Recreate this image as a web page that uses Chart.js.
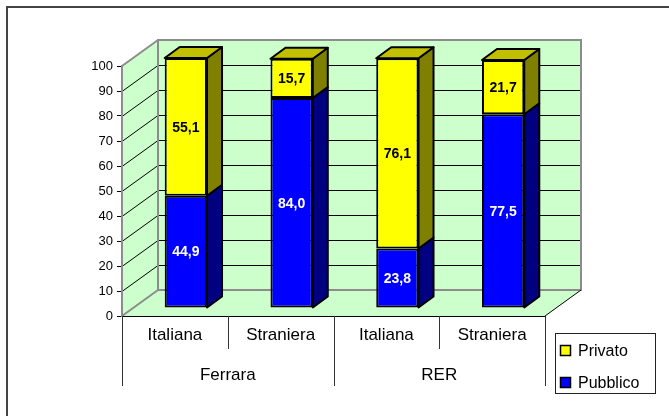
<!DOCTYPE html>
<html>
<head>
<meta charset="utf-8">
<script src="https://cdn.jsdelivr.net/npm/chart.js@4/dist/chart.umd.min.js"></script>
<style>
  html, body { margin: 0; padding: 0; background: #ffffff; }
  #wrap { width: 669px; height: 416px; position: relative; }
</style>
</head>
<body>
<div id="wrap"><canvas id="chart" width="669" height="416"></canvas></div>
<script>
// Categories: nationality within each area
const categories = ['Italiana', 'Straniera', 'Italiana', 'Straniera'];
const groups = ['Ferrara', 'RER'];
// Percentages per sector
const pubblico = [44.9, 84.0, 23.8, 77.5];
const privato = [55.1, 15.7, 76.1, 21.7];
const yMin = 0, yMax = 100, yStep = 10;

const FONT = "'Liberation Sans', Arial, sans-serif";
const WALL = { dx: 36, dy: 26 };      // depth of the chart box
const BAR_SHIFT = { dx: 11, dy: 8 };  // bars sit a bit behind the front plane
const BAR_DEPTH = { dx: 15, dy: 11 };

const fmt = v => v.toFixed(1).replace('.', ',');

// walls, floor and gridlines of the 3D box
const boxPlugin = {
    id: 'box3d',
    beforeDraw(chart) {
        const { ctx, chartArea: a, scales: { y } } = chart;
        const { dx, dy } = WALL;
        ctx.save();

        // outer frame
        ctx.strokeStyle = '#444';
        ctx.lineWidth = 2;
        ctx.beginPath();
        ctx.moveTo(7, 420); ctx.lineTo(7, 7); ctx.lineTo(680, 7);
        ctx.stroke();

        ctx.fillStyle = '#ccffcc';
        // left wall
        ctx.beginPath();
        ctx.moveTo(a.left, a.bottom); ctx.lineTo(a.left, a.top);
        ctx.lineTo(a.left + dx, a.top - dy); ctx.lineTo(a.left + dx, a.bottom - dy);
        ctx.closePath(); ctx.fill();
        // floor
        ctx.beginPath();
        ctx.moveTo(a.left, a.bottom); ctx.lineTo(a.right, a.bottom);
        ctx.lineTo(a.right + dx, a.bottom - dy); ctx.lineTo(a.left + dx, a.bottom - dy);
        ctx.closePath(); ctx.fill();
        // back wall
        ctx.fillRect(a.left + dx, a.top - dy, a.right - a.left, a.bottom - a.top);

        // gridlines
        ctx.strokeStyle = '#000';
        ctx.lineWidth = 1;
        for (let v = yMin + yStep; v < yMax; v += yStep) {
            const py = Math.round(y.getPixelForValue(v)) + 0.5;
            ctx.beginPath();
            ctx.moveTo(a.left, py); ctx.lineTo(a.left + dx, py - dy);
            ctx.lineTo(a.right + dx, py - dy);
            ctx.stroke();
        }

        // box edges
        ctx.strokeStyle = '#8c8c8c';
        ctx.lineWidth = 2;
        ctx.strokeRect(a.left + dx, a.top - dy, a.right - a.left, a.bottom - a.top);
        ctx.beginPath();
        ctx.moveTo(a.left, a.top); ctx.lineTo(a.left + dx, a.top - dy);
        ctx.moveTo(a.left, a.bottom); ctx.lineTo(a.left + dx, a.bottom - dy);
        ctx.stroke();
        ctx.strokeStyle = '#000';
        ctx.lineWidth = 1;
        ctx.beginPath();
        ctx.moveTo(a.right, a.bottom); ctx.lineTo(a.right + dx, a.bottom - dy);
        ctx.stroke();
        ctx.restore();
    },
    beforeDatasetsDraw(chart) {
        chart.ctx.save();
        chart.ctx.translate(BAR_SHIFT.dx, -BAR_SHIFT.dy);
    },
    afterDatasetsDraw(chart) {
        const { ctx } = chart;
        const { dx, dy } = BAR_DEPTH;
        const n = chart.data.datasets.length;
        ctx.lineWidth = 2;
        ctx.lineJoin = 'round';
        ctx.strokeStyle = '#000';
        chart.data.datasets.forEach((ds, di) => {
            chart.getDatasetMeta(di).data.forEach(bar => {
                const l = bar.x - bar.width / 2, r = bar.x + bar.width / 2;
                const t = bar.y, b = bar.base;
                // side face
                ctx.fillStyle = ds.sideColor;
                ctx.beginPath();
                ctx.moveTo(r, t); ctx.lineTo(r + dx, t - dy);
                ctx.lineTo(r + dx, b - dy); ctx.lineTo(r, b);
                ctx.closePath(); ctx.fill(); ctx.stroke();
                // top face on the uppermost segment
                if (di === n - 1) {
                    ctx.fillStyle = ds.topColor;
                    ctx.beginPath();
                    ctx.moveTo(l, t); ctx.lineTo(l + dx, t - dy);
                    ctx.lineTo(r + dx, t - dy); ctx.lineTo(r, t);
                    ctx.closePath(); ctx.fill(); ctx.stroke();
                }
            });
        });
        // value labels
        ctx.font = 'bold 14px ' + FONT;
        ctx.textAlign = 'center';
        ctx.textBaseline = 'middle';
        chart.data.datasets.forEach((ds, di) => {
            chart.getDatasetMeta(di).data.forEach((bar, i) => {
                ctx.fillStyle = ds.labelColor;
                ctx.fillText(fmt(ds.data[i]), bar.x, (bar.y + bar.base) / 2 + 1);
            });
        });
        ctx.restore();
    },
    afterDraw(chart) {
        const { ctx, chartArea: a, scales: { x } } = chart;
        ctx.save();
        // category dividers and group labels
        ctx.strokeStyle = '#333';
        ctx.lineWidth = 1;
        const half = (x.getPixelForValue(1) - x.getPixelForValue(0)) / 2;
        categories.forEach((c, i) => {
            const px = Math.round(x.getPixelForValue(i) - half) + 0.5;
            ctx.beginPath();
            ctx.moveTo(px, a.bottom);
            ctx.lineTo(px, i % 2 === 0 ? a.bottom + 70 : a.bottom + 33);
            ctx.stroke();
        });
        const endX = Math.round(x.getPixelForValue(categories.length - 1) + half) + 0.5;
        ctx.beginPath();
        ctx.moveTo(endX, a.bottom); ctx.lineTo(endX, a.bottom + 70);
        ctx.stroke();

        ctx.fillStyle = '#000';
        ctx.font = '17px ' + FONT;
        ctx.textAlign = 'center';
        ctx.textBaseline = 'alphabetic';
        groups.forEach((g, gi) => {
            const cx = (x.getPixelForValue(gi * 2) + x.getPixelForValue(gi * 2 + 1)) / 2;
            ctx.fillText(g, cx, a.bottom + 64);
        });

        // legend
        ctx.strokeStyle = '#222';
        ctx.strokeRect(555.5, 333.5, 100, 60);
        ctx.font = '16px ' + FONT;
        ctx.textAlign = 'left';
        const items = chart.data.datasets.slice().reverse();
        items.forEach((ds, k) => {
            const yy = 345 + k * 32;
            ctx.fillStyle = ds.backgroundColor;
            ctx.fillRect(560, yy, 11, 11);
            ctx.lineWidth = 1.5;
            ctx.strokeStyle = '#000';
            ctx.strokeRect(560.5, yy + 0.5, 10, 10);
            ctx.fillStyle = '#000';
            ctx.fillText(ds.label, 578, yy + 11);
        });
        ctx.restore();
    }
};

new Chart(document.getElementById('chart'), {
    type: 'bar',
    data: {
        labels: categories,
        datasets: [
            {
                label: 'Pubblico', data: pubblico,
                backgroundColor: '#0000ff', sideColor: '#000080', topColor: '#0000c0',
                labelColor: '#ffffff'
            },
            {
                label: 'Privato', data: privato,
                backgroundColor: '#ffff00', sideColor: '#808000', topColor: '#c0c000',
                labelColor: '#000000'
            }
        ]
    },
    options: {
        responsive: false,
        animation: false,
        devicePixelRatio: 1,
        layout: { padding: { left: 0, right: 124, top: 66, bottom: 0 } },
        datasets: {
            bar: {
                categoryPercentage: 1,
                barPercentage: 0.4,
                borderColor: '#000',
                borderWidth: 2,
                borderSkipped: false,
                clip: false
            }
        },
        plugins: { legend: { display: false }, tooltip: { enabled: false } },
        scales: {
            x: {
                stacked: true,
                grid: { display: false, drawTicks: false },
                border: { display: true, color: '#000', width: 1 },
                ticks: { color: '#000', font: { family: FONT, size: 17 }, padding: 9, maxRotation: 0 },
                afterFit: s => { s.height = 100; }
            },
            y: {
                stacked: true,
                min: yMin, max: yMax,
                grid: { drawOnChartArea: false, drawTicks: true, tickLength: 5, color: '#000' },
                border: { display: true, color: '#8c8c8c', width: 2 },
                ticks: { stepSize: yStep, color: '#000', font: { family: FONT, size: 13 }, padding: 4 },
                afterFit: s => { s.width = 122; }
            }
        }
    },
    plugins: [boxPlugin]
});
</script>
</body>
</html>
